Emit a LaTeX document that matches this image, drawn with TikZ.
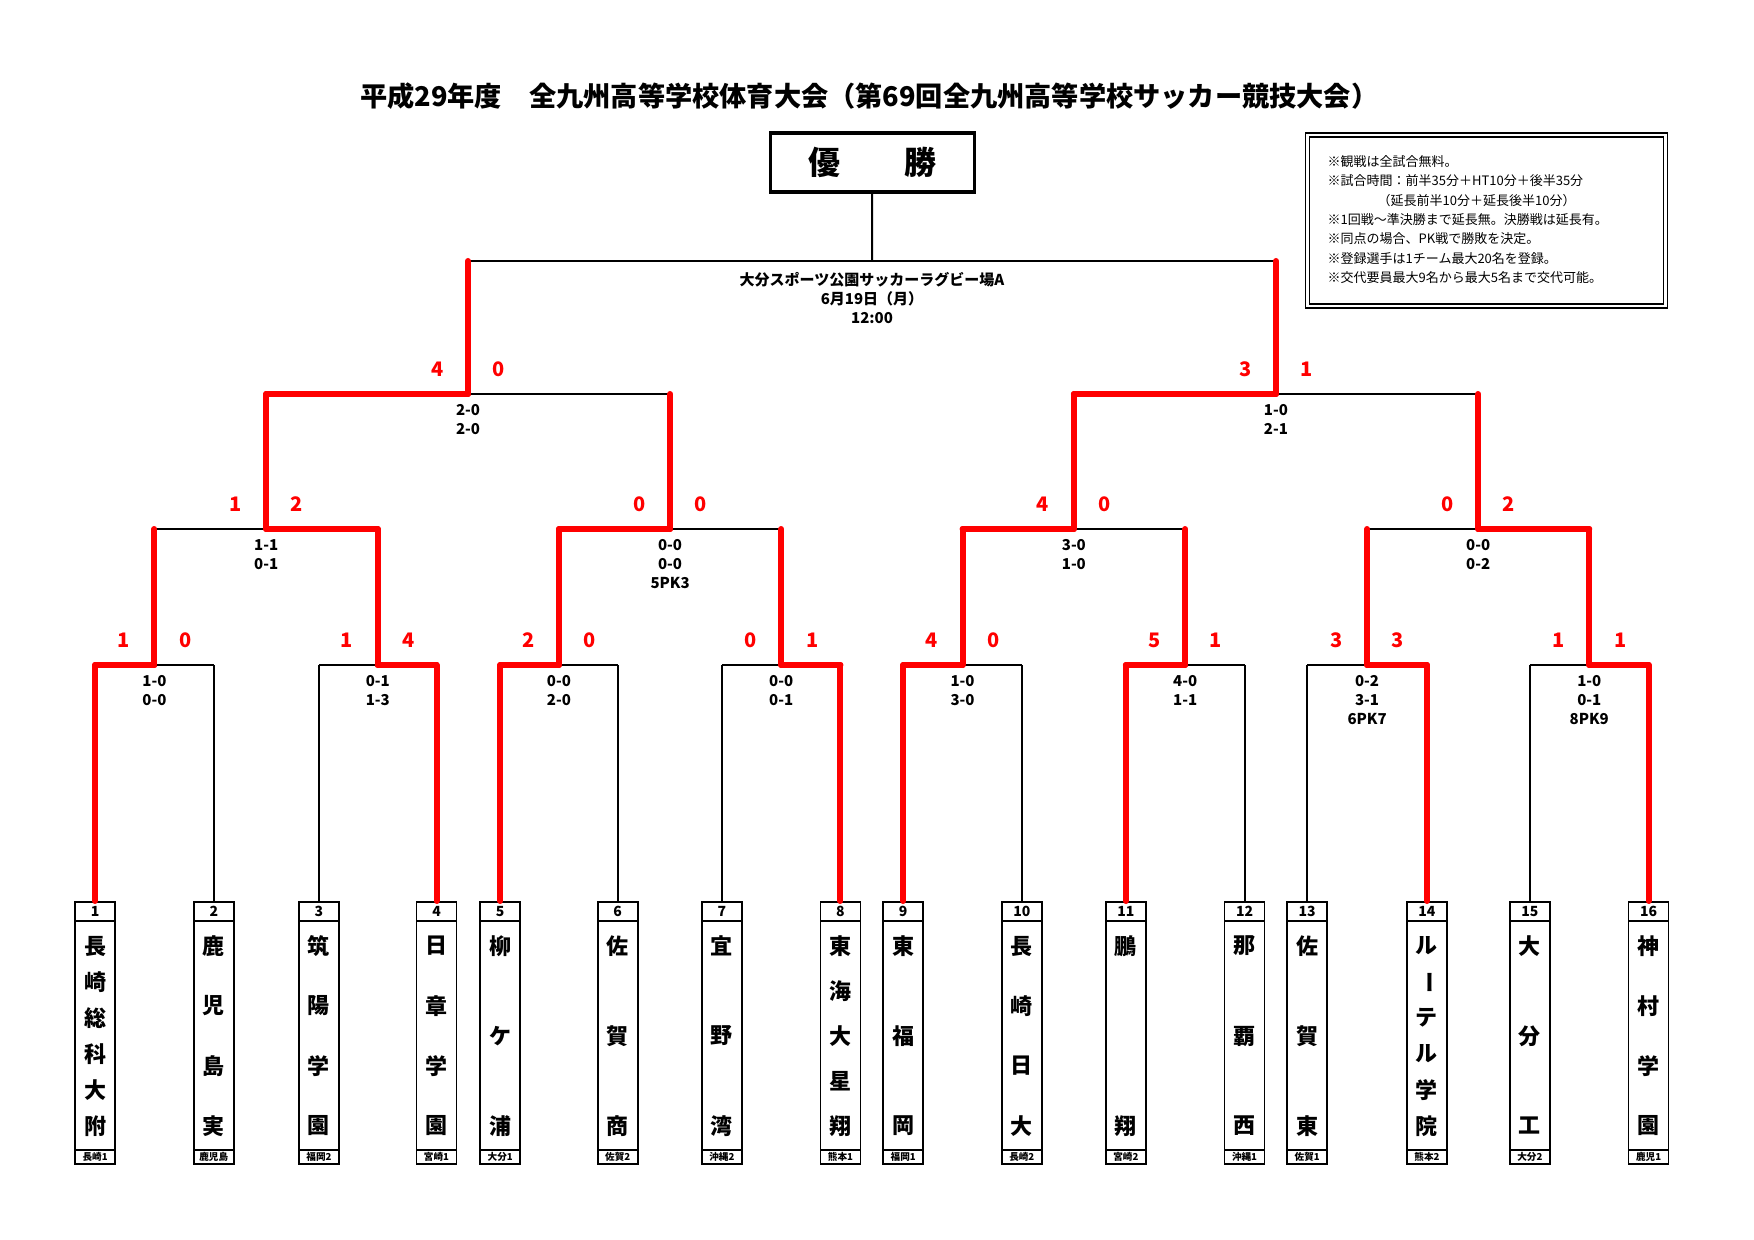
\documentclass[tikz,border=0pt]{standalone}
\usepackage{fontspec}
\setmainfont{Noto Sans CJK JP}
\begin{document}
\begin{tikzpicture}[x=0.49785pt,y=-0.5pt,
 bk/.style={black,line width=1pt},
 rd/.style={red,line width=3pt,line cap=round},
 sc/.style={text=red,font=\bfseries\fontsize{10}{10}\selectfont,inner sep=0},
 res/.style={font=\bfseries\fontsize{7.5}{9.5}\selectfont,align=center,anchor=north,inner sep=0},
 team/.style={draw,line width=0.8pt,minimum width=20pt,minimum height=131pt,anchor=north,inner sep=0},
 chr/.style={font=\bfseries\fontsize{11}{11}\selectfont,inner sep=0}]
\useasboundingbox (0pt,0pt) rectangle (877pt,-620pt);
\fill[white] (0pt,0pt) rectangle (877pt,-620pt);
\node[font=\bfseries\fontsize{13.6}{14}\selectfont] (title) at (873,96) {平成29年度　全九州高等学校体育大会（第69回全九州高等学校サッカー競技大会）};
\node[draw,line width=1.6pt,minimum width=102pt,minimum height=29.5pt,font=\bfseries\fontsize{16}{16}\selectfont] (champ) at (876,162.5) {優　　勝};
\draw[line width=0.6pt] (1311,133) rectangle (1675,308);
\draw[line width=0.6pt] (1315,137) rectangle (1671,304);
\node[anchor=north west,align=left,font=\fontsize{6.5}{9.7}\selectfont,inner sep=0] (notes) at (1333,155) {※観戦は全試合無料。\\※試合時間：前半35分＋HT10分＋後半35分\\\hspace{25pt}（延長前半10分＋延長後半10分）\\※1回戦～準決勝まで延長無。決勝戦は延長有。\\※同点の場合、PK戦で勝敗を決定。\\※登録選手は1チーム最大20名を登録。\\※交代要員最大9名から最大5名まで交代可能。};
% teams
\newcommand\tm[5]{%
 \node[team] (t#1) at (#2,901) {};
 \draw[line width=0.8pt] (#2-20,921) -- (#2+20,921) (#2-20,1150) -- (#2+20,1150);
 \node[font=\bfseries\fontsize{7}{7}\selectfont] (n#1) at (#2,911.5) {#1};
 \node[font=\bfseries\fontsize{4.8}{5}\selectfont,inner sep=0] (p#1) at (#2,1157) {#3};
 \foreach \c [count=\i] in {#5} {\node[chr] at (#2,{946+(\i-1)*180/(#4-1)}) {\c};}}
\tm{1}{95.5}{長崎1}{6}{長,崎,総,科,大,附}
\tm{2}{214.7}{鹿児島}{4}{鹿,児,島,実}
\tm{3}{320.3}{福岡2}{4}{筑,陽,学,園}
\tm{4}{438.4}{宮崎1}{4}{日,章,学,園}
\tm{5}{502.4}{大分1}{3}{柳,ケ,浦}
\tm{6}{620.4}{佐賀2}{3}{佐,賀,商}
\tm{7}{725}{沖縄2}{3}{宜,野,湾}
\tm{8}{844.1}{熊本1}{5}{東,海,大,星,翔}
\tm{9}{907.1}{福岡1}{3}{東,福,岡}
\tm{10}{1026.2}{長崎2}{4}{長,崎,日,大}
\tm{11}{1130.7}{宮崎2}{2}{鵬,翔}
\tm{12}{1249.9}{沖縄1}{3}{那,覇,西}
\tm{13}{1312.8}{佐賀1}{3}{佐,賀,東}
\tm{14}{1433.1}{熊本2}{6}{ル,\rotatebox{-90}{ー},テ,ル,学,院}
\tm{15}{1536.5}{大分2}{3}{大,分,工}
\tm{16}{1655.7}{鹿児1}{4}{神,村,学,園}
\newcommand\mt[9]{%
 \draw[#8] (#1,#3) -- ({(#1+#2)/2},#3);
 \draw[#9] ({(#1+#2)/2},#3) -- (#2,#3);
 \draw[#6] (#1,#4) -- (#1,#3);
 \draw[#7] (#2,#5) -- (#2,#3);}
\newcommand\lab[5]{%
 \node[sc] at ({#1-31},{#2-25}) {#3};
 \node[sc] at ({#1+31},{#2-25}) {#4};
 \node[res] at (#1,{#2+10}) {#5};}
% round 1
\mt{95.5}{214.7}{665}{901}{901}{rd}{bk}{rd}{bk}\lab{155.1}{665}{1}{0}{1-0\\0-0}
\mt{320.3}{438.4}{665}{901}{901}{bk}{rd}{bk}{rd}\lab{379.4}{665}{1}{4}{0-1\\1-3}
\mt{502.4}{620.4}{665}{901}{901}{rd}{bk}{rd}{bk}\lab{561.4}{665}{2}{0}{0-0\\2-0}
\mt{725}{844.1}{665}{901}{901}{bk}{rd}{bk}{rd}\lab{784.6}{665}{0}{1}{0-0\\0-1}
\mt{907.1}{1026.2}{665}{901}{901}{rd}{bk}{rd}{bk}\lab{966.7}{665}{4}{0}{1-0\\3-0}
\mt{1130.7}{1249.9}{665}{901}{901}{rd}{bk}{rd}{bk}\lab{1190.3}{665}{5}{1}{4-0\\1-1}
\mt{1312.8}{1433.1}{665}{901}{901}{bk}{rd}{bk}{rd}\lab{1373}{665}{3}{3}{0-2\\3-1\\6PK7}
\mt{1536.5}{1655.7}{665}{901}{901}{bk}{rd}{bk}{rd}\lab{1596.1}{665}{1}{1}{1-0\\0-1\\8PK9}
% round 2
\mt{155.1}{379.4}{529}{665}{665}{rd}{rd}{bk}{rd}\lab{267.3}{529}{1}{2}{1-1\\0-1}
\mt{561.4}{784.6}{529}{665}{665}{rd}{rd}{rd}{bk}\lab{673}{529}{0}{0}{0-0\\0-0\\5PK3}
\mt{966.7}{1190.3}{529}{665}{665}{rd}{rd}{rd}{bk}\lab{1078.5}{529}{4}{0}{3-0\\1-0}
\mt{1373}{1596.1}{529}{665}{665}{rd}{rd}{bk}{rd}\lab{1484.5}{529}{0}{2}{0-0\\0-2}
% round 3
\mt{267.3}{673}{394}{529}{529}{rd}{rd}{rd}{bk}\lab{470.1}{394}{4}{0}{2-0\\2-0}
\mt{1078.5}{1484.5}{394}{529}{529}{rd}{rd}{rd}{bk}\lab{1281.5}{394}{3}{1}{1-0\\2-1}
% final
\mt{470.1}{1281.5}{261}{394}{394}{rd}{rd}{bk}{bk}
\draw[bk] (champ.south) -- (875.8,261);
\node[res] (venue) at (875.8,272) {大分スポーツ公園サッカーラグビー場A\\6月19日（月）\\12:00};
\end{tikzpicture}
\end{document}
